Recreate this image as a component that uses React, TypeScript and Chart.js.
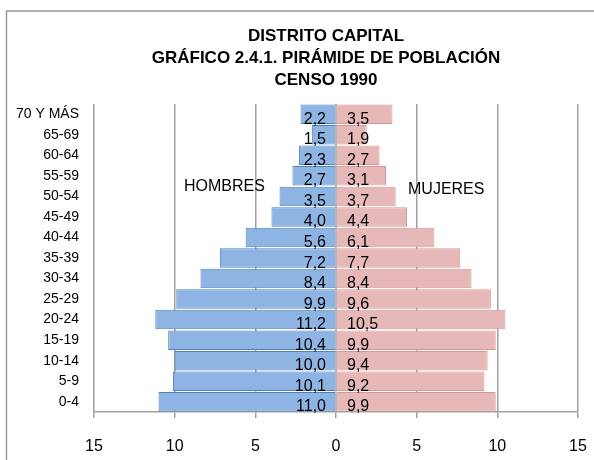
import React, { useEffect, useRef } from "react";
import { Chart, registerables } from "chart.js";

Chart.register(...registerables);

const categories = [
  "70 Y MÁS", "65-69", "60-64", "55-59", "50-54", "45-49", "40-44",
  "35-39", "30-34", "25-29", "20-24", "15-19", "10-14", "5-9", "0-4",
];
const hombres = [2.2, 1.5, 2.3, 2.7, 3.5, 4.0, 5.6, 7.2, 8.4, 9.9, 11.2, 10.4, 10.0, 10.1, 11.0];
const mujeres = [3.5, 1.9, 2.7, 3.1, 3.7, 4.4, 6.1, 7.7, 8.4, 9.6, 10.5, 9.9, 9.4, 9.2, 9.9];
const titleLines = ["DISTRITO CAPITAL", "GRÁFICO 2.4.1. PIRÁMIDE DE POBLACIÓN", "CENSO 1990"];
const seriesNames = ["HOMBRES", "MUJERES"];
const xMin = -15;
const xMax = 15;
const xStep = 5;

const FONT = "'Liberation Sans', Arial, sans-serif";
const GRID = "#a0a0a0";

const fmt = (v: number) => v.toFixed(1).replace(".", ",");

const decorPlugin = {
  id: "decor",
  beforeDraw(chart: any) {
    const ctx = chart.ctx;
    ctx.save();
    ctx.fillStyle = "#ffffff";
    ctx.fillRect(0, 0, chart.width, chart.height);
    ctx.strokeStyle = "#9a9a9a";
    ctx.lineWidth = 1.5;
    ctx.beginPath();
    ctx.moveTo(6.5, chart.height);
    ctx.lineTo(6.5, 11);
    ctx.lineTo(chart.width, 11);
    ctx.stroke();
    // title
    ctx.fillStyle = "#000";
    ctx.font = `bold 17px ${FONT}`;
    ctx.textAlign = "center";
    ctx.textBaseline = "alphabetic";
    titleLines.forEach((t, i) => ctx.fillText(t, 326, 41 + i * 22));
    ctx.restore();
  },
  afterDatasetsDraw(chart: any) {
    const ctx = chart.ctx;
    const xs = chart.scales.x;
    const area = chart.chartArea;
    const x0 = xs.getPixelForValue(0);
    ctx.save();
    // zero line
    ctx.strokeStyle = GRID;
    ctx.lineWidth = 1.5;
    ctx.beginPath();
    ctx.moveTo(x0, area.top);
    ctx.lineTo(x0, area.bottom);
    ctx.stroke();
    // value labels
    ctx.fillStyle = "#000";
    ctx.font = `16px ${FONT}`;
    ctx.textBaseline = "alphabetic";
    const m0 = chart.getDatasetMeta(0);
    const m1 = chart.getDatasetMeta(1);
    m0.data.forEach((bar: any, i: number) => {
      ctx.textAlign = "right";
      ctx.fillText(fmt(hombres[i]), x0 - 10, bar.y + 9.5);
    });
    m1.data.forEach((bar: any, i: number) => {
      ctx.textAlign = "left";
      ctx.fillText(fmt(mujeres[i]), x0 + 11, bar.y + 9.5);
    });
    // series names
    ctx.textAlign = "left";
    ctx.fillText(seriesNames[0], 184, 191);
    ctx.fillText(seriesNames[1], 408, 194);
    ctx.restore();
  },
};

export default function App() {
  const ref = useRef<HTMLCanvasElement | null>(null);

  useEffect(() => {
    if (!ref.current) return;
    const chart = new Chart(ref.current, {
      type: "bar",
      data: {
        labels: categories,
        datasets: [
          {
            label: seriesNames[0],
            data: hombres.map((v) => -v),
            backgroundColor: "#8eb4e3",
            borderColor: "#4f81bd",
            borderWidth: 1,
            barPercentage: 0.95,
            categoryPercentage: 1,
          },
          {
            label: seriesNames[1],
            data: mujeres,
            backgroundColor: "#e6b9b8",
            borderColor: "#d99694",
            borderWidth: 1,
            barPercentage: 0.95,
            categoryPercentage: 1,
          },
        ],
      },
      options: {
        indexAxis: "y",
        responsive: false,
        animation: false,
        layout: { padding: { top: 104, right: 16, left: 0, bottom: 0 } },
        plugins: {
          legend: { display: false },
          title: { display: false },
          tooltip: { enabled: false },
        },
        scales: {
          x: {
            type: "linear",
            stacked: true,
            min: xMin,
            max: xMax,
            afterFit: (s: any) => {
              s.height = 48;
              s.paddingLeft = 0;
              s.paddingRight = 0;
            },
            ticks: {
              stepSize: xStep,
              padding: 19,
              color: "#000",
              font: { family: FONT, size: 16 },
              callback: (v: any) => String(Math.abs(Number(v))),
            },
            grid: {
              color: (c: any) => (c.tick && c.tick.value === 0 ? "rgba(0,0,0,0)" : GRID),
              tickColor: GRID,
              lineWidth: 1.5,
              tickLength: 6,
              drawTicks: true,
            },
            border: { display: true, color: GRID, width: 1.5 },
          },
          y: {
            type: "category",
            stacked: true,
            afterFit: (s: any) => {
              s.width = 94;
              s.paddingTop = 0;
              s.paddingBottom = 0;
            },
            ticks: {
              padding: 15,
              color: "#000",
              font: { family: FONT, size: 14 },
            },
            grid: { display: false, drawTicks: false },
            border: { display: false },
          },
        },
      },
      plugins: [decorPlugin],
    } as any);
    return () => chart.destroy();
  }, []);

  return (
    <div style={{ position: "fixed", left: 0, top: 0, width: 594, height: 460 }}>
      <canvas ref={ref} width={594} height={460} style={{ width: 594, height: 460 }} />
    </div>
  );
}
